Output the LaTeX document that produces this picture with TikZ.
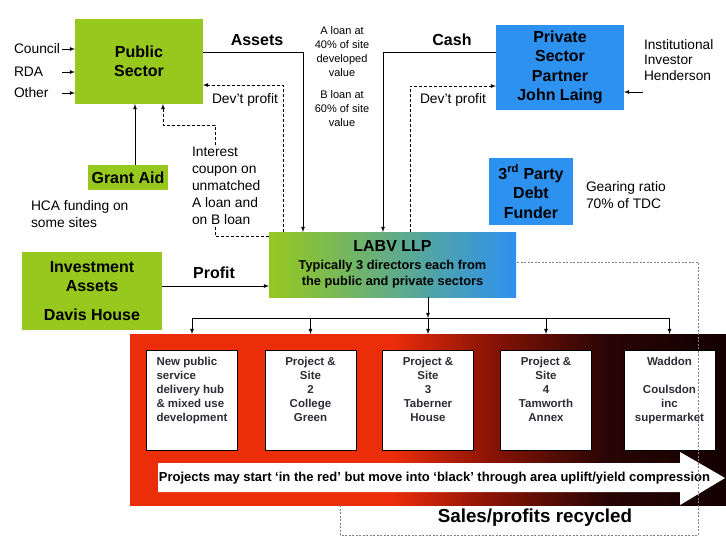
\documentclass[tikz,border=0pt]{standalone}
\usepackage{fontspec}
\setmainfont{Liberation Sans}
\usepackage{xcolor}
\usetikzlibrary{arrows}

\definecolor{psgreen}{RGB}{150,200,30}
\definecolor{psblue}{RGB}{45,145,240}
\definecolor{redleft}{RGB}{235,45,10}
\definecolor{redmid}{RGB}{140,20,5}
\definecolor{reddark}{RGB}{40,5,5}
\definecolor{redright}{RGB}{20,0,0}
\definecolor{projtext}{RGB}{45,45,55}

\pgfdeclarehorizontalshading{redtoblack}{100bp}{color(0bp)=(redleft); color(25bp)=(redleft); color(47bp)=(redleft); color(55bp)=(redmid); color(65bp)=(reddark); color(75bp)=(redright); color(100bp)=(redright)}

\newcommand{\bhead}{\fontsize{16}{19.5}\selectfont\bfseries}
\newcommand{\notefont}{\fontsize{13.8}{17}\selectfont}
\newcommand{\loanfont}{\fontsize{11}{14}\selectfont}
\newcommand{\projfont}{\fontsize{11.5}{14}\selectfont\bfseries}

\begin{document}
\begin{tikzpicture}[x=1pt,y=-1pt,line width=0.8pt]
      \tikzstyle{every node}=[inner sep=0pt, outer sep=0pt]
      \tikzstyle{gbox}=[fill=psgreen, font=\bhead, align=center]
      \tikzstyle{bbox}=[fill=psblue, font=\bhead, align=center]
      \tikzstyle{lbl}=[font=\notefont, align=left]
      \tikzstyle{dashline}=[dash pattern=on 3pt off 2pt]
      \tikzstyle{recycle}=[gray, line width=0.7pt, dash pattern=on 2pt off 1.5pt]
      \tikzstyle{pbox}=[draw=black, fill=white, minimum width=91pt, minimum height=100pt]
      \tikzstyle{ptext}=[font=\projfont, text=projtext, align=center, anchor=north]
      \useasboundingbox (0,0) rectangle (726,538);

      \node[gbox, minimum width=128pt, minimum height=85pt] (pub) at (139,61.5) {Public\\Sector};
      \node[lbl, anchor=west, text width=48pt] (council) at (14,49) {Council};
      \node[lbl, anchor=west, text width=48pt] (rda) at (14,72) {RDA};
      \node[lbl, anchor=west, text width=48pt] (other) at (14,93) {Other};
      \foreach \s in {council,rda,other}
        \draw[-latex] (\s) -- (\s -| pub.west);

      \node[gbox, minimum width=80pt, minimum height=25pt] (grant) at (128,177.5) {Grant Aid};
      \draw[-latex] ([xshift=7pt]grant.north) -- ([xshift=7pt]grant.north |- pub.south);
      \node[lbl, anchor=west] (hca) at (31,214) {HCA funding on\\some sites};

      \node[gbox, minimum width=140pt, minimum height=78pt] (inv) at (92,291) {Investment\\Assets\\[9pt]Davis House};

      \node[bbox, minimum width=128pt, minimum height=85pt] (priv) at (560,67.5) {Private\\Sector\\Partner\\John Laing};
      \node[lbl, anchor=west, font=\fontsize{13.7}{15.5}\selectfont] (inst) at (644,60) {Institutional\\Investor\\Henderson};
      \coordinate (instin) at (643,92);
      \draw[-latex] (instin) -- (instin -| priv.east);

      \node[bbox, minimum width=84pt, minimum height=67pt] (debt) at (531,191.5) {3\textsuperscript{rd} Party\\Debt\\Funder};
      \node[lbl, anchor=west] (gear) at (586,195) {Gearing ratio\\70\% of TDC};

      \node[minimum width=247pt, minimum height=65pt, left color=psgreen, right color=psblue, align=center, font=\fontsize{12.8}{16}\selectfont\bfseries] (labv) at (392.5,264.5) {{\fontsize{16}{19}\selectfont LABV LLP}\\[2pt]Typically 3 directors each from\\the public and private sectors};

      \node[font=\loanfont, align=center] (aloan) at (342,52) {A loan at\\40\% of site\\developed\\value};
      \node[font=\loanfont, align=center] (bloan) at (342,108.5) {B loan at\\60\% of site\\value};

      \node[font=\bhead] (assets) at (257,40) {Assets};
      \node[font=\bhead] (cash) at (452,40) {Cash};
      \node[font=\bhead] (profit) at (214,273) {Profit};
      \node[lbl] (devl) at (245,100) {Dev't profit};
      \node[lbl] (devr) at (453,100) {Dev't profit};

      \draw[-latex] ([yshift=9.5pt]pub.east) -| ([xshift=34pt]labv.north west);
      \draw[-latex] ([yshift=15.5pt]priv.west) -| ([xshift=114pt]labv.north west);
      \draw[dashline,-latex] ([xshift=14pt]labv.north west) |- ([yshift=-23.5pt]pub.east);
      \draw[dashline,-latex] ([xshift=141pt]labv.north west) |- ([yshift=-18.5pt]priv.west);
      \draw[dashline,-latex] ([yshift=28.5pt]labv.west) -| ++(-54,-111) -| ([xshift=24pt]pub.south);
      \node[lbl, anchor=west, fill=white, inner sep=1pt] (coupon) at (191,185.5) {Interest\\coupon on\\unmatched\\A loan and\\on B loan};
      \draw[-latex] ([yshift=5pt]inv.east) -- ([yshift=5pt]inv.east -| labv.west);

      \node[shade, shading=redtoblack, minimum width=596pt, minimum height=171pt] (red) at (428,419.5) {};

      \node[pbox] (p1) at (192,400) {};
      \node[pbox] (p2) at (310.5,400) {};
      \node[pbox] (p3) at (428,400) {};
      \node[pbox] (p4) at (546,400) {};
      \node[pbox] (p5) at (669.5,400) {};
      \node[ptext, anchor=north west, align=left] at ([xshift=10pt,yshift=-7pt]p1.north west) {New public\\service\\delivery hub\\\& mixed use\\development};
      \node[ptext] at ([yshift=-7pt]p2.north) {Project \&\\Site\\2\\College\\Green};
      \node[ptext] at ([yshift=-7pt]p3.north) {Project \&\\Site\\3\\Taberner\\House};
      \node[ptext] at ([yshift=-7pt]p4.north) {Project \&\\Site\\4\\Tamworth\\Annex};
      \node[ptext] at ([yshift=-7pt]p5.north) {Waddon\\[14pt]Coulsdon\\inc\\supermarket};

      \coordinate (bus) at (0,318);
      \draw[-latex] (labv.south -| p3) -- (p3 |- bus);
      \draw (p1 |- bus) -- (p5 |- bus);
      \foreach \p in {p1,p2,p3,p4,p5}
        \draw[-latex] (\p |- bus) -- (\p |- red.north);

      \fill[white] (158,463) -- (680,463) -- (680,452) -- (725,478) -- (680,505) -- (680,492) -- (158,492) -- cycle;
      \node[font=\fontsize{13}{15}\selectfont\bfseries] (slogan) at (434.5,478) {Projects may start ‘in the red’ but move into ‘black’ through area uplift/yield compression};

      \node[font=\fontsize{18.8}{22}\selectfont\bfseries] (sales) at (535,518) {Sales/profits recycled};
      \draw[recycle] ([xshift=-88pt]red.south) |- ++(358,30) |- ([yshift=2.5pt]labv.east);
    \end{tikzpicture}
\end{document}
